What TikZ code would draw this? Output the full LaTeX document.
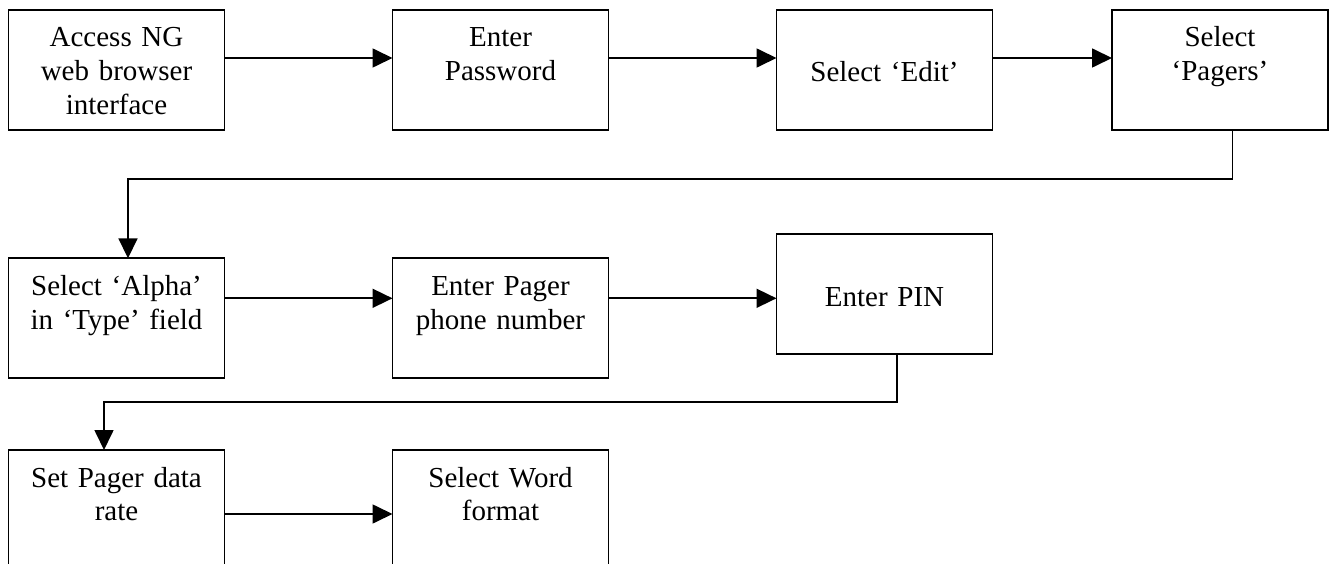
\documentclass[tikz,border=0pt]{standalone}
\usepackage{fontspec}
\setmainfont{Liberation Serif}
\usepackage{tikz}
\usetikzlibrary{arrows.meta,positioning}
\tikzstyle{task} = [rectangle, draw=black, line width=1.7pt, fill=white, text=black, text width=200pt, align=center, font=\fontsize{29}{33.8}\selectfont, minimum width=216pt, minimum height=120pt, inner xsep=8pt, inner ysep=0pt, outer sep=0pt, text height=37pt, text depth=83pt]
\tikzstyle{tasklow} = [task, text height=72pt, text depth=48pt]
\tikzstyle{tedge}  = [draw, line width=1.7pt, >={Triangle[length=20pt, width=19pt]}, ->]

\begin{document}
\begin{tikzpicture}

\fill[white] (0pt,0pt) rectangle (1336pt,-564pt);
\useasboundingbox (0pt,0pt) rectangle (1336pt,-564pt);

% boxes =============================

% first row
\node[task] (access) at (116.5pt,-70pt) {Access NG\\web browser\\interface};
\node[task, right=168pt of access] (passwd) {Enter\\Password};
\node[tasklow, right=168pt of passwd] (edit) {Select `Edit'};
\node[task, right=119.5pt of edit] (pagers) {Select\\`Pagers'};

% second row
\node[task, below=128.3pt of access] (alpha) {Select `Alpha'\\in `Type' field};
\node[task, right=168pt of alpha] (phone) {Enter Pager\\phone number};
\node[tasklow, right=168pt of phone, yshift=24pt] (pin) {Enter PIN};

% third row
\node[task, below=71.7pt of alpha] (rate) {Set Pager data\\rate};
\node[task, right=168pt of rate] (word) {Select Word\\format};

%edges
\path[tedge] ([yshift=12pt]access.east) -- ([yshift=12pt]access.east -| passwd.west);
\path[tedge] ([yshift=12pt]passwd.east) -- ([yshift=12pt]passwd.east -| edit.west);
\path[tedge] ([yshift=12pt]edit.east) -- ([yshift=12pt]edit.east -| pagers.west);
\path[tedge] ([xshift=12.5pt]pagers.south) -- ++(0pt,-49pt) -| ([xshift=11.5pt]alpha.north);

\path[tedge] ([yshift=20pt]alpha.east) -- ([yshift=20pt]alpha.east -| phone.west);
\path[tedge] ([yshift=20pt]phone.east) -- ([yshift=20pt]phone.east -| pin.west);
\path[tedge] ([xshift=12.5pt]pin.south) -- ++(0pt,-48pt) -| ([xshift=-12.5pt]rate.north);

\path[tedge] ([yshift=-4pt]rate.east) -- ([yshift=-4pt]rate.east -| word.west);

\end{tikzpicture}
\end{document}
